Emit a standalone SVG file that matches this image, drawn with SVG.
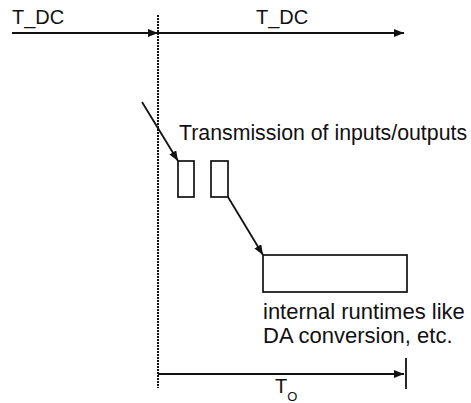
<svg xmlns="http://www.w3.org/2000/svg" width="471" height="403" viewBox="0 0 471 403">
<defs>
<style>
.t{font-family:"Liberation Sans",Arial,sans-serif;fill:#111}
.ln{stroke:#111;stroke-width:1.8;fill:none}
.bx{stroke:#111;stroke-width:1.7;fill:#fff}
</style>
<marker id="ah" viewBox="0 0 10 8" refX="10" refY="4" markerWidth="10" markerHeight="8" markerUnits="userSpaceOnUse" orient="auto">
<path d="M0,0 L10,4 L0,8 Z" fill="#111"/>
</marker>
</defs>
<rect width="471" height="403" fill="#fff"/>
<g id="connectors">
<line x1="158" y1="15" x2="158" y2="388" stroke="#111" stroke-width="2" stroke-dasharray="2 1"/>
<line class="ln" x1="12" y1="33" x2="158" y2="33" marker-end="url(#ah)"/>
<line class="ln" x1="158" y1="33" x2="404" y2="33" marker-end="url(#ah)"/>
<line class="ln" x1="142" y1="102" x2="178" y2="161" marker-end="url(#ah)"/>
<line class="ln" x1="228" y1="197" x2="263" y2="255" marker-end="url(#ah)"/>
<line class="ln" x1="158" y1="374" x2="404" y2="374" marker-end="url(#ah)"/>
<line class="ln" x1="406" y1="358" x2="406" y2="389"/>
</g>
<g id="label-tdc1"><text class="t" x="12" y="24" font-size="20">T_DC</text></g>
<g id="label-tdc2"><text class="t" x="256" y="24" font-size="20">T_DC</text></g>
<g id="label-transmission"><text class="t" x="179" y="140" font-size="21.3">Transmission of inputs/outputs</text></g>
<g id="box-in"><rect class="bx" x="178" y="161" width="16" height="36"/></g>
<g id="box-out"><rect class="bx" x="211" y="161" width="17" height="36"/></g>
<g id="box-internal"><rect class="bx" x="263" y="255" width="144" height="37"/></g>
<g id="label-internal"><text class="t" x="263" y="319" font-size="22">internal runtimes like</text><text class="t" x="263" y="343" font-size="22">DA conversion, etc.</text></g>
<g id="label-to"><text class="t" x="275" y="393" font-size="20">T<tspan font-size="13" dy="8">O</tspan></text></g>
</svg>
